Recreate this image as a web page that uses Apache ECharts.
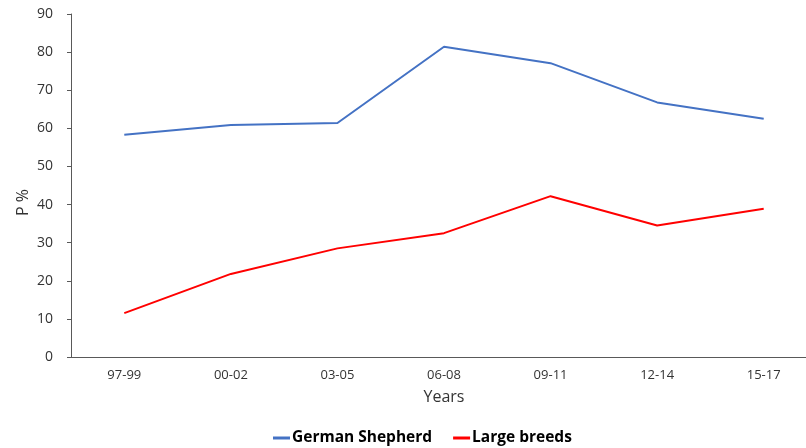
<!DOCTYPE html>
<html><head><meta charset="utf-8">
<script src="https://cdn.jsdelivr.net/npm/echarts@6/dist/echarts.min.js"></script>
<style>html,body{margin:0;padding:0;background:#fff;overflow:hidden}#c{width:817px;height:448px}</style>
</head><body><div id="c"></div>
<script>
var categories = ['97-99','00-02','03-05','06-08','09-11','12-14','15-17'];
var germanShepherd = [58.3, 60.9, 61.4, 81.4, 77.1, 66.8, 62.5];
var largeBreeds = [11.5, 21.8, 28.5, 32.5, 42.2, 34.5, 38.9];
var FONT = '"Open Sans", sans-serif';
var chart = echarts.init(document.getElementById('c'), null, {renderer:'canvas'});
chart.setOption({
  animation:false,
  grid:{left:71, right:0, top:14, bottom:91, containLabel:false},
  legend:{
    top:425, left:268, itemWidth:17, itemHeight:3, itemGap:21, icon:'rect',
    textStyle:{fontFamily:FONT, fontWeight:'bold', fontSize:15.5, color:'#000', padding:[0,0,0,-3]},
    data:['German Shepherd','Large breeds']
  },
  xAxis:{
    type:'category', data:categories, boundaryGap:true,
    name:'Years', nameLocation:'middle', nameGap:32, nameMoveOverlap:false,
    nameTextStyle:{fontFamily:FONT, fontSize:16, color:'#333'},
    axisLine:{lineStyle:{color:'#595959', width:1}},
    axisTick:{show:false},
    axisLabel:{fontFamily:FONT, fontSize:13, color:'#333', margin:12}
  },
  yAxis:{
    type:'value', min:0, max:90, interval:10,
    name:'P %', nameLocation:'middle', nameGap:40, nameRotate:90, nameMoveOverlap:false,
    nameTextStyle:{fontFamily:FONT, fontSize:16, color:'#333', padding:[0,34,0,0]},
    axisLine:{show:true, lineStyle:{color:'#595959', width:1}},
    axisTick:{show:true, length:4, lineStyle:{color:'#595959'}},
    splitLine:{show:false},
    axisLabel:{fontFamily:FONT, fontSize:14, color:'#333', margin:18}
  },
  series:[
    {name:'German Shepherd', type:'line', data:germanShepherd, showSymbol:false, symbol:'none',
     lineStyle:{color:'#4472C4', width:2}, itemStyle:{color:'#4472C4'}},
    {name:'Large breeds', type:'line', data:largeBreeds, showSymbol:false, symbol:'none',
     lineStyle:{color:'#FF0000', width:2}, itemStyle:{color:'#FF0000'}}
  ]
});
</script></body></html>
